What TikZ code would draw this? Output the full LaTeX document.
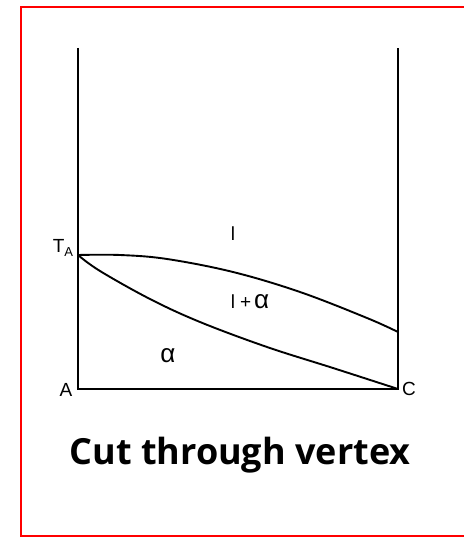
\documentclass[tikz,border=0pt]{standalone}
\usepackage{fontspec}
\setmainfont{Liberation Sans}
\newfontfamily\titlefont{Open Sans}[BoldFont={* Bold}]
\begin{document}
\begin{tikzpicture}[x=1pt,y=-1pt,
  axis/.style={line width=2pt,black},
  curve/.style={line width=1.9pt,black},
  lbl/.style={font=\fontsize{19}{20}\selectfont,inner sep=0pt},
  big/.style={font=\fontsize{26}{28}\selectfont,inner sep=0pt},
  title/.style={font=\titlefont\bfseries\fontsize{36}{40}\selectfont,inner sep=0pt}]
\useasboundingbox (0,0) rectangle (463,537);
\draw[red,line width=1.3pt] (470,7) -- (21,7) -- (21,536) -- (470,536);
% axes
\coordinate (TL) at (78,48);
\coordinate (TR) at (398,48);
\coordinate (A) at (78,389);
\coordinate (C) at (398,389);
\coordinate (TA) at (78,255);
\coordinate (R) at (398,332);
\draw[axis] (TL) -- (A) -- (C) -- (TR);
% liquidus
\draw[curve] plot[smooth,tension=0.6] coordinates {(TA) (120,255) (167,259) (233,272) (300,292) (367,318) (R)};
% solidus
\draw[curve] plot[smooth,tension=0.6] coordinates {(TA) (100,271) (150,299) (200,322) (267,347) (333,368) (C)};
% labels
\node[lbl] (lTA) at (63,248) {T\raisebox{-0.35ex}{\fontsize{13}{14}\selectfont A}};
\node[lbl] (lA) at (66,390) {A};
\node[lbl] (lC) at (409,389) {C};
\node[lbl] (ll) at (233,234) {l};
\node[lbl] (lla) at (250,302) {l\hspace{5pt}+\hspace{3pt}{\fontsize{26}{28}\selectfont α}};
\node[big] (la) at (168,356) {α};
\node[title] (t) at (240,455) {Cut through vertex};
\end{tikzpicture}
\end{document}
